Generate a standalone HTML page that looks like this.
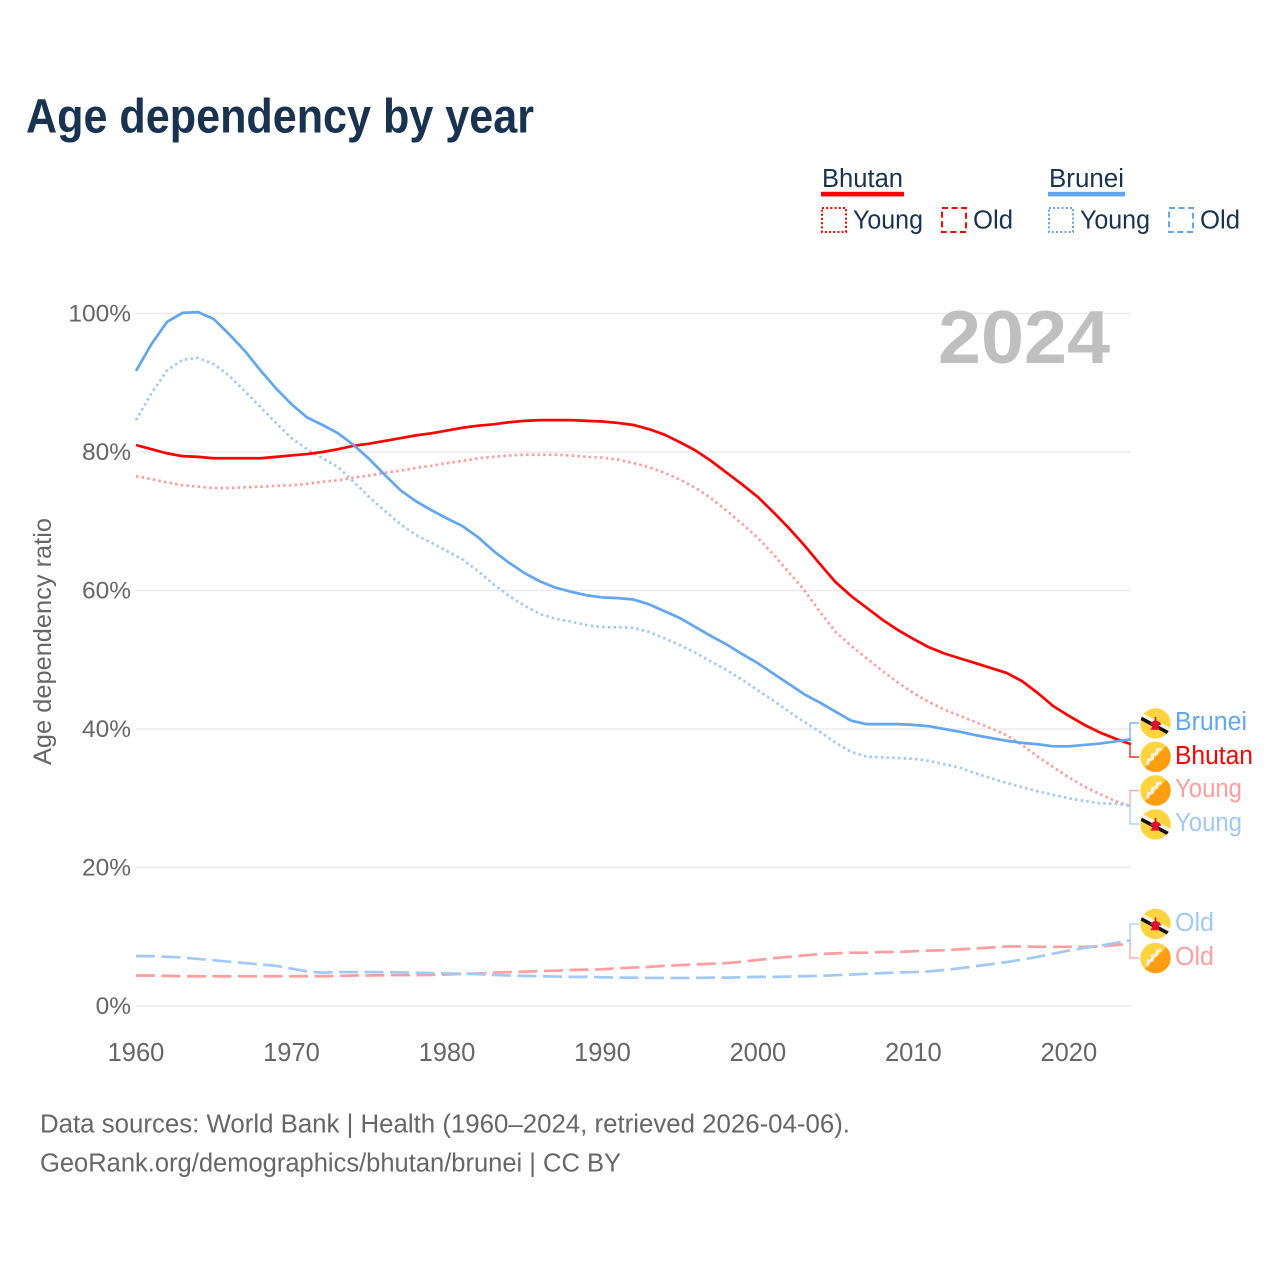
<!DOCTYPE html>
<html lang="en">
<head>
<meta charset="utf-8">
<title>Age dependency by year</title>
<style>
  html, body { margin: 0; padding: 0; background: #fff; }
  svg { display: block; font-family: "Liberation Sans", sans-serif; }
</style>
</head>
<body>
<svg id="chart" xmlns="http://www.w3.org/2000/svg" width="1280" height="1280" viewBox="0 0 1280 1280">
  <defs>
    <clipPath id="flag-clip"><circle cx="0" cy="0" r="15.2"/></clipPath>
    <symbol id="flag-bhutan" viewBox="-16 -16 32 32" overflow="visible">
      <g clip-path="url(#flag-clip)">
        <rect x="-16" y="-16" width="32" height="32" fill="#ffd43f"/>
        <polygon points="16,-16 16,16 -16,16" fill="#ff9d11"/>
        <path d="M-8 8 L-7 3 L-3 2 L-3 -2 L1 -3 L2 -7 L6 -8" fill="none" stroke="#f6efe4" stroke-width="3"/>
      </g>
    </symbol>
    <symbol id="flag-brunei" viewBox="-16 -16 32 32" overflow="visible">
      <g clip-path="url(#flag-clip)">
        <rect x="-16" y="-16" width="32" height="32" fill="#ffd43f"/>
        <polygon points="-16,-12 -16,-8 16,9 16,5" fill="#f7f3ea"/>
        <polygon points="-16,-8 -16,-4 16,13 16,9" fill="#111"/>
        <path transform="translate(0 2) scale(0.85)" d="M-1 -10 L1 -10 L1 -6 L5 -4 L7 -1 L3 0 L5 5 L-6 5 L-3 0 L-7 -2 L-3 -5 L-1 -6 Z" fill="#e0102f"/>
      </g>
    </symbol>
  </defs>

  <text x="26" y="132.5" font-size="48" font-weight="700" fill="#18324f" textLength="508" lengthAdjust="spacingAndGlyphs">Age dependency by year</text>

  <g>
    <g>
      <text x="822" y="187" font-size="25.5" fill="#18324f" textLength="81" lengthAdjust="spacingAndGlyphs">Bhutan</text>
      <rect x="821" y="191.8" width="83" height="4.6" fill="#ff0000"/>
      <rect x="822" y="208" width="24" height="24" fill="none" stroke="#ff0000" stroke-width="2" stroke-dasharray="2 2.2"/>
      <text x="853" y="228.5" font-size="25.5" fill="#18324f" textLength="70" lengthAdjust="spacingAndGlyphs">Young</text>
      <rect x="942" y="208" width="24" height="24" fill="none" stroke="#ff0000" stroke-width="2" stroke-dasharray="6 3.6"/>
      <text x="973" y="228.5" font-size="25.5" fill="#18324f" textLength="40" lengthAdjust="spacingAndGlyphs">Old</text>
    </g>
    <g>
      <text x="1049" y="187" font-size="25.5" fill="#18324f" textLength="75" lengthAdjust="spacingAndGlyphs">Brunei</text>
      <rect x="1048" y="191.8" width="77" height="4.6" fill="#62a6ee"/>
      <rect x="1049" y="208" width="24" height="24" fill="none" stroke="#62a6ee" stroke-width="2" stroke-dasharray="2 2.2"/>
      <text x="1080" y="228.5" font-size="25.5" fill="#18324f" textLength="70" lengthAdjust="spacingAndGlyphs">Young</text>
      <rect x="1169" y="208" width="24" height="24" fill="none" stroke="#62a6ee" stroke-width="2" stroke-dasharray="6 3.6"/>
      <text x="1200" y="228.5" font-size="25.5" fill="#18324f" textLength="40" lengthAdjust="spacingAndGlyphs">Old</text>
    </g>
  </g>

  <g id="grid"></g>
  <g id="y-ticks"></g>
  <g id="x-ticks"></g>
  <text transform="translate(51 765) rotate(-90)" font-size="25" fill="#666666" textLength="247" lengthAdjust="spacingAndGlyphs">Age dependency ratio</text>
  <text x="938" y="363" font-size="75" font-weight="700" fill="#bfbfbf" textLength="172" lengthAdjust="spacingAndGlyphs">2024</text>

  <g id="series"></g>
  <g id="connectors"></g>

  <g>
    <use href="#flag-brunei" x="1139.5" y="707.5" width="32" height="32"/>
    <text x="1175" y="730" font-size="25.5" fill="#62a6ee" textLength="72" lengthAdjust="spacingAndGlyphs">Brunei</text>
    <use href="#flag-bhutan" x="1139.5" y="740.8" width="32" height="32"/>
    <text x="1175" y="764" font-size="25.5" fill="#ff0000" textLength="78" lengthAdjust="spacingAndGlyphs">Bhutan</text>
    <use href="#flag-bhutan" x="1139.5" y="774.5" width="32" height="32"/>
    <text x="1175" y="797" font-size="25.5" fill="#ff9d9f" textLength="67" lengthAdjust="spacingAndGlyphs">Young</text>
    <use href="#flag-brunei" x="1139.5" y="808.4" width="32" height="32"/>
    <text x="1175" y="831" font-size="25.5" fill="#a1c9f4" textLength="67" lengthAdjust="spacingAndGlyphs">Young</text>
    <use href="#flag-brunei" x="1139.5" y="908" width="32" height="32"/>
    <text x="1175" y="931" font-size="25.5" fill="#a1c9f4" textLength="39" lengthAdjust="spacingAndGlyphs">Old</text>
    <use href="#flag-bhutan" x="1139.5" y="942" width="32" height="32"/>
    <text x="1175" y="965" font-size="25.5" fill="#ff9d9f" textLength="39" lengthAdjust="spacingAndGlyphs">Old</text>
  </g>

  <text x="40" y="1132.5" font-size="25.5" fill="#666666" textLength="810" lengthAdjust="spacingAndGlyphs">Data sources: World Bank | Health (1960–2024, retrieved 2026-04-06).</text>
  <text x="40" y="1171.5" font-size="25.5" fill="#666666" textLength="581" lengthAdjust="spacingAndGlyphs">GeoRank.org/demographics/bhutan/brunei | CC BY</text>
</svg>

<script>
const startYear = 1960;
const xTickYears = [1960, 1970, 1980, 1990, 2000, 2010, 2020];
const yTickValues = [0, 20, 40, 60, 80, 100];
const yTickLabels = ["0%", "20%", "40%", "60%", "80%", "100%"];

const bhutanTotal = [81,80.4,79.8,79.4,79.3,79.1,79.1,79.1,79.1,79.3,79.5,79.7,80,80.4,80.9,81.2,81.6,82,82.4,82.7,83.1,83.5,83.8,84,84.3,84.5,84.6,84.6,84.6,84.5,84.4,84.2,83.9,83.3,82.5,81.4,80.2,78.7,77,75.3,73.5,71.3,69,66.5,63.8,61.2,59.2,57.5,55.8,54.3,53,51.8,50.9,50.2,49.5,48.8,48.1,46.9,45.2,43.3,41.9,40.6,39.5,38.6,37.8];
const bhutanYoung = [76.5,76.1,75.6,75.2,75,74.8,74.8,74.9,75,75.1,75.2,75.4,75.7,75.9,76.3,76.6,77,77.3,77.7,78,78.4,78.7,79.1,79.3,79.5,79.6,79.6,79.6,79.5,79.3,79.2,78.9,78.4,77.8,77,76,74.8,73.3,71.5,69.6,67.6,65.2,62.6,60,56.9,54,52,50.2,48.4,46.7,45.2,43.9,42.8,41.9,41,40.1,39.1,37.7,36,34.5,33,31.7,30.6,29.6,28.8];
const bhutanOld = [4.4,4.4,4.35,4.3,4.3,4.3,4.3,4.3,4.3,4.3,4.3,4.3,4.3,4.35,4.4,4.4,4.45,4.45,4.45,4.5,4.55,4.65,4.7,4.8,4.9,4.95,5.05,5.1,5.2,5.25,5.3,5.45,5.55,5.65,5.8,5.9,6,6.1,6.2,6.4,6.65,6.9,7.1,7.3,7.5,7.6,7.7,7.7,7.8,7.8,7.9,8,8.05,8.2,8.3,8.45,8.6,8.6,8.55,8.55,8.55,8.55,8.6,8.8,9];
const bruneiTotal = [91.7,95.6,98.8,100.1,100.2,99.2,97,94.6,91.8,89.2,86.9,85,83.9,82.7,81,79,76.7,74.5,72.9,71.6,70.4,69.3,67.7,65.7,64,62.5,61.3,60.4,59.8,59.3,59,58.9,58.7,58,57,56,54.7,53.4,52.2,50.8,49.5,48,46.5,45,43.8,42.5,41.2,40.7,40.7,40.7,40.6,40.4,40,39.6,39.1,38.7,38.3,38,37.8,37.5,37.5,37.7,37.9,38.2,38.5];
const bruneiYoung = [84.6,88.5,91.8,93.3,93.6,92.7,91,88.8,86.5,84.2,82,80.4,79.1,77.8,75.7,73.5,71.5,69.6,68,66.9,65.7,64.5,62.8,60.9,59.2,57.8,56.6,55.9,55.5,55,54.7,54.7,54.6,54,53.1,52.1,51,49.7,48.5,47.1,45.6,44.1,42.5,41,39.6,38,36.7,36,35.9,35.8,35.7,35.4,34.9,34.4,33.6,32.9,32.2,31.6,31,30.5,30,29.6,29.3,29.2,29];
const bruneiOld = [7.2,7.2,7.1,7,6.8,6.6,6.4,6.2,6,5.8,5.4,5,4.8,4.9,4.9,4.9,4.9,4.85,4.8,4.75,4.7,4.65,4.6,4.5,4.4,4.35,4.3,4.25,4.2,4.2,4.15,4.1,4.1,4.05,4.05,4.05,4.05,4.1,4.1,4.15,4.2,4.2,4.25,4.3,4.35,4.45,4.55,4.65,4.75,4.85,4.9,5,5.2,5.45,5.75,6.05,6.35,6.7,7.1,7.55,8,8.4,8.7,9.1,9.5];

const SVG_NS = "http://www.w3.org/2000/svg";

function xScale(year) {
  return 136 + (year - 1960) * (1131 - 136) / 64;
}
function yScale(value) {
  return 1006 - value * 6.925;
}
function pathFor(values) {
  return values.map(function (v, i) {
    return (i ? "L" : "M") + xScale(startYear + i).toFixed(2) + " " + yScale(v).toFixed(2);
  }).join(" ");
}

const gridLayer = document.getElementById("grid");
const yTickLayer = document.getElementById("y-ticks");
yTickValues.forEach(function (v, i) {
  const line = document.createElementNS(SVG_NS, "line");
  
  
  line.setAttribute("x1", 136);
  line.setAttribute("x2", 1131);
  line.setAttribute("y1", yScale(v));
  line.setAttribute("y2", yScale(v));
  line.setAttribute("stroke", "#ebebeb");
  line.setAttribute("stroke-width", "1.5");
  gridLayer.appendChild(line);

  const label = document.createElementNS(SVG_NS, "text");
  
  
  label.setAttribute("x", 131);
  label.setAttribute("y", yScale(v) + 8);
  label.setAttribute("text-anchor", "end");
  label.setAttribute("font-size", "24.5");
  label.setAttribute("fill", "#666666");
  label.textContent = yTickLabels[i];
  yTickLayer.appendChild(label);
});

const xTickLayer = document.getElementById("x-ticks");
xTickYears.forEach(function (year) {
  const label = document.createElementNS(SVG_NS, "text");
  
  
  label.setAttribute("x", xScale(year));
  label.setAttribute("y", 1061);
  label.setAttribute("text-anchor", "middle");
  label.setAttribute("font-size", "25.5");
  label.setAttribute("fill", "#666666");
  label.textContent = String(year);
  xTickLayer.appendChild(label);
});

function drawLine(values, name, color, width, dash) {
  const p = document.createElementNS(SVG_NS, "path");
  
  
  p.setAttribute("d", pathFor(values));
  p.setAttribute("fill", "none");
  p.setAttribute("stroke", color);
  p.setAttribute("stroke-width", width);
  p.setAttribute("stroke-linejoin", "round");
  if (dash) p.setAttribute("stroke-dasharray", dash);
  document.getElementById("series").appendChild(p);
}

const DOTTED = "2.5 3.2";
const DASHED = "19 6.5";
drawLine(bhutanOld, "line-bhutan-old", "#ff9d9f", 2.7, DASHED);
drawLine(bruneiOld, "line-brunei-old", "#a1c9f4", 2.7, DASHED);
drawLine(bhutanYoung, "line-bhutan-young", "#ff9d9f", 2.7, DOTTED);
drawLine(bruneiYoung, "line-brunei-young", "#a1c9f4", 2.7, DOTTED);
drawLine(bhutanTotal, "line-bhutan-total", "#ff0000", 2.7, null);
drawLine(bruneiTotal, "line-brunei-total", "#62a6ee", 2.7, null);

function drawConnector(values, slotY, name, color) {
  const endY = yScale(values[values.length - 1]);
  const p = document.createElementNS(SVG_NS, "path");
  
  
  p.setAttribute("d", "M1130 " + endY.toFixed(1) + " V" + slotY + " H1139");
  p.setAttribute("fill", "none");
  p.setAttribute("stroke", color);
  p.setAttribute("stroke-width", "1.2");
  document.getElementById("connectors").appendChild(p);
}
drawConnector(bruneiTotal, 723, "connector-brunei", "#62a6ee");
drawConnector(bhutanTotal, 757, "connector-bhutan", "#ff0000");
drawConnector(bhutanYoung, 790.5, "connector-bhutan-young", "#ff9d9f");
drawConnector(bruneiYoung, 824, "connector-brunei-young", "#a1c9f4");
drawConnector(bruneiOld, 924, "connector-brunei-old", "#a1c9f4");
drawConnector(bhutanOld, 958, "connector-bhutan-old", "#ff9d9f");
</script>
</body>
</html>
